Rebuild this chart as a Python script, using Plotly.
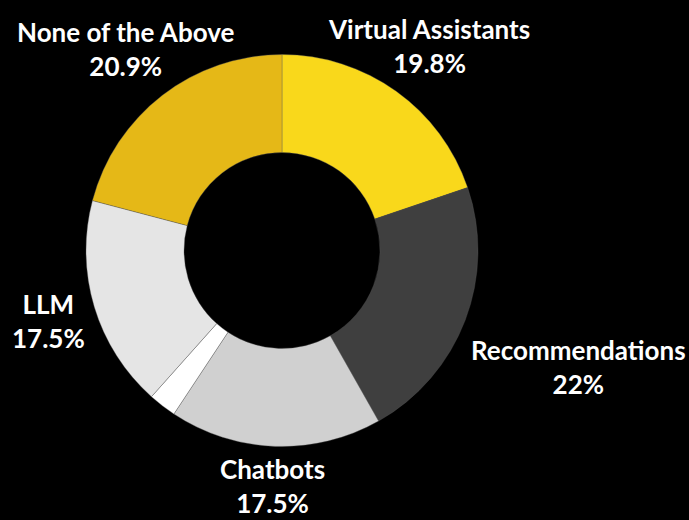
import plotly.graph_objects as go

# Survey shares (percent), clockwise from 12 o'clock
categories = ["Virtual Assistants", "Recommendations", "Chatbots", "Other", "LLM", "None of the Above"]
shares = [19.8, 22, 17.5, 2.3, 17.5, 20.9]
colors = ["#F9D81B", "#3F3F3F", "#D0D0D0", "#FFFFFF", "#E5E5E5", "#E5B817"]
labelled = [True, True, True, False, True, True]

W, H = 689, 520
# Donut centre and outer radius in pixels
cx, cy, R = 282, 250.5, 196

# Label block centres (pixels from top-left) for each labelled slice
label_pos = {
    "Virtual Assistants": (429, 46),
    "Recommendations": (578, 367),
    "Chatbots": (272, 486),
    "LLM": (48, 321),
    "None of the Above": (125, 49),
}

fig = go.Figure(
    go.Pie(
        labels=categories,
        values=shares,
        hole=0.5,
        sort=False,
        direction="clockwise",
        rotation=0,
        textinfo="none",
        hoverinfo="label+percent",
        marker=dict(colors=colors, line=dict(color="rgba(90,90,90,0.6)", width=0.6)),
        showlegend=False,
        domain=dict(
            x=[(cx - R) / W, (cx + R) / W],
            y=[1 - (cy + R) / H, 1 - (cy - R) / H],
        ),
    )
)

annotations = []
for name, val, show in zip(categories, shares, labelled):
    if not show:
        continue
    px, py = label_pos[name]
    annotations.append(
        dict(
            x=px / W,
            y=1 - py / H,
            xref="paper",
            yref="paper",
            xanchor="center",
            yanchor="middle",
            showarrow=False,
            align="center",
            text=f"{name}<br>{val:g}%",
            font=dict(family="Lato", size=26, color="#FFFFFF", weight="bold"),
        )
    )

fig.update_layout(
    width=W,
    height=H,
    margin=dict(l=0, r=0, t=0, b=0),
    paper_bgcolor="#000000",
    plot_bgcolor="#000000",
    annotations=annotations,
)

fig.write_html("out.html")
